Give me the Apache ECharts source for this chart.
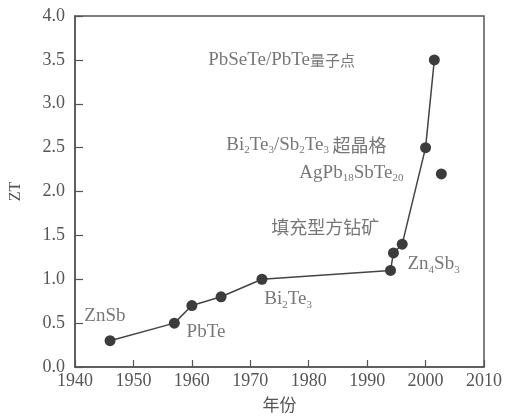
<!DOCTYPE html>
<html><head><meta charset="utf-8">
<script src="https://cdn.jsdelivr.net/npm/echarts@6/dist/echarts.min.js"></script>
<style>html,body{margin:0;padding:0;background:#fff}#c{width:505px;height:418px}</style>
</head><body><div id="c"></div>
<script>
// main connected series (year, ZT)
const years = [1946, 1957, 1960, 1965, 1972, 1994, 1994.5, 1996, 2000, 2001.5];
const zt    = [0.3, 0.5, 0.7, 0.8, 1.0, 1.1, 1.3, 1.4, 2.5, 3.5];
// isolated point (AgPb18SbTe20)
const isoYears = [2002.7];
const isoZT    = [2.2];
// axis ticks
const xMin = 1940, xMax = 2010, xStep = 10;
const yMin = 0, yMax = 4, yStep = 0.5;
// annotations (rich text) anchored in data coordinates (left-middle)
const annoText = [
  '{t|PbSeTe/PbTe}{k|量子点}',
  '{t|Bi}{s|2}{t|Te}{s|3}{t|/Sb}{s|2}{t|Te}{s|3} {c|超晶格}',
  '{t|AgPb}{s|18}{t|SbTe}{s|20}',
  '{c|填充型方钻矿}',
  '{t|Zn}{s|4}{t|Sb}{s|3}',
  '{t|Bi}{s|2}{t|Te}{s|3}',
  '{t|ZnSb}',
  '{t|PbTe}'
];
const annoYear = [1962.8, 1965.9, 1978.4, 1973.6, 1996.9, 1972.4, 1941.6, 1959.1];
const annoZT   = [3.50, 2.53, 2.21, 1.59, 1.17, 0.77, 0.58, 0.40];

const txt = '#555';
const serif = '"Liberation Serif","Times New Roman",serif';
const cjk = '"Noto Sans CJK SC",sans-serif';

const chart = echarts.init(document.getElementById('c'));
chart.setOption({
  animation: false,
  grid: { left: 73, right: 18, top: 16, bottom: 50, show: true, borderColor: '#555', borderWidth: 1.5, backgroundColor: 'transparent' },
  xAxis: {
    type: 'value', min: xMin, max: xMax, interval: xStep,
    name: '年份', nameLocation: 'middle', nameGap: 29,
    nameTextStyle: { fontFamily: cjk, fontSize: 17, color: txt },
    axisLine: { lineStyle: { color: '#555', width: 1.5 } },
    axisTick: { inside: true, length: 7, lineStyle: { color: '#555', width: 1.2 } },
    axisLabel: { color: txt, fontFamily: serif, fontSize: 18, margin: 5, formatter: v => String(v) },
    splitLine: { show: false }
  },
  yAxis: {
    type: 'value', min: yMin, max: yMax, interval: yStep,
    name: 'ZT', nameLocation: 'middle', nameGap: 51, nameRotate: 90,
    nameTextStyle: { fontFamily: serif, fontSize: 16, color: txt },
    axisLine: { show: true, lineStyle: { color: '#555', width: 1.5 } },
    axisTick: { show: true, inside: true, length: 8, lineStyle: { color: '#555', width: 1.2 } },
    axisLabel: { color: txt, fontFamily: serif, fontSize: 18, margin: 10, formatter: v => v.toFixed(1) },
    splitLine: { show: false }
  },
  series: [
    {
      type: 'line',
      data: years.map((y, i) => [y, zt[i]]),
      symbol: 'circle', symbolSize: 11,
      lineStyle: { color: '#444', width: 1.5 },
      itemStyle: { color: '#3c3c3c', opacity: 1 },
      silent: true, z: 3
    },
    {
      type: 'scatter',
      data: isoYears.map((y, i) => [y, isoZT[i]]),
      symbol: 'circle', symbolSize: 11,
      itemStyle: { color: '#3c3c3c', opacity: 1 },
      silent: true, z: 3
    },
    {
      type: 'scatter',
      data: annoYear.map((y, i) => ({ value: [y, annoZT[i]], text: annoText[i] })),
      symbolSize: 0,
      silent: true, z: 5,
      label: {
        show: true, position: [0, 0], align: 'left', verticalAlign: 'middle',
        formatter: p => p.data.text,
        rich: {
          t: { fontFamily: serif, fontSize: 19, color: txt, lineHeight: 22 },
          s: { fontFamily: serif, fontSize: 11, color: txt, lineHeight: 12, verticalAlign: 'bottom' },
          c: { fontFamily: cjk, fontSize: 18, color: txt, lineHeight: 22 },
          k: { fontFamily: cjk, fontSize: 15, color: txt, lineHeight: 22 }
        }
      }
    }
  ]
});
</script>
</body></html>
